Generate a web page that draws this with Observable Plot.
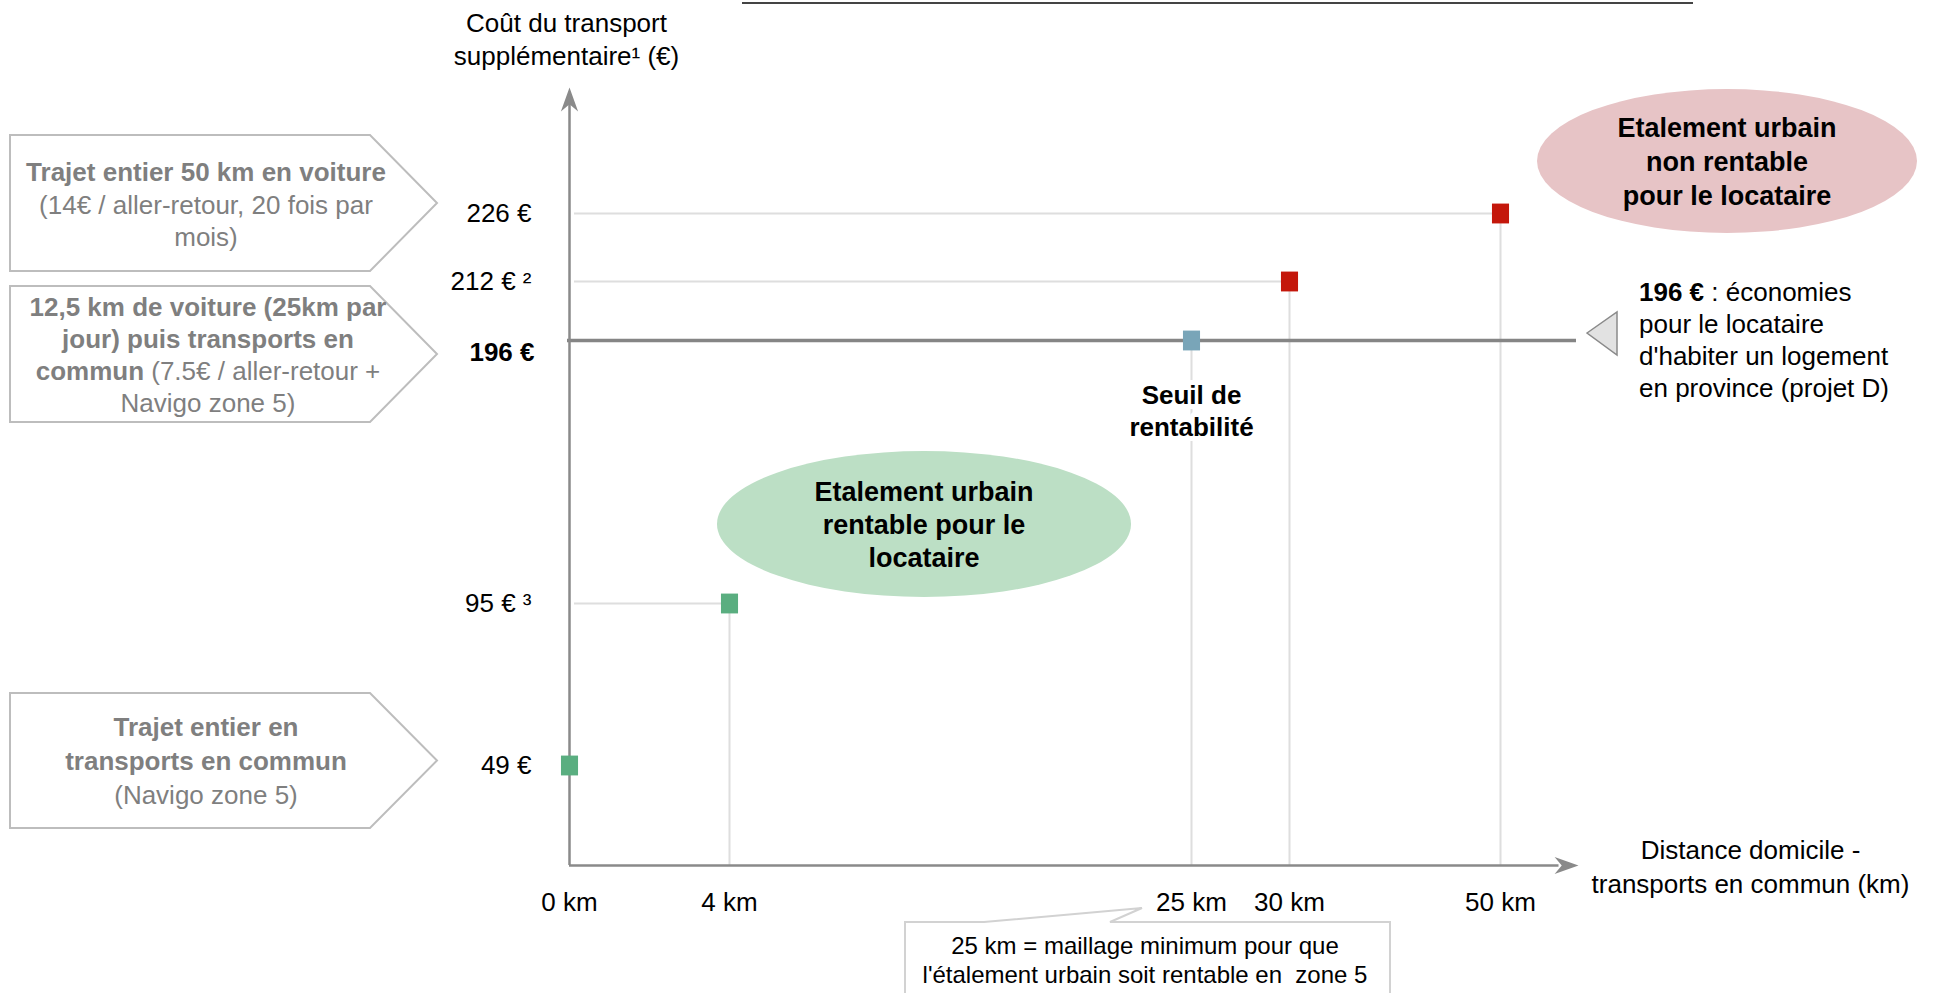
<!DOCTYPE html>
<html>
<head>
<meta charset="utf-8">
<script src="https://cdn.jsdelivr.net/npm/d3@7"></script>
<script src="https://cdn.jsdelivr.net/npm/@observablehq/plot@0.6"></script>
<style>
  html, body { margin: 0; padding: 0; background: #ffffff; }
  #chart svg { display: block; }
</style>
</head>
<body>
<div id="chart"></div>
<script>
// Home – public transport distance (km) and the extra monthly transport cost (€)
const distances = [0, 4, 25, 30, 50];
const costs = [49, 95, 196, 212, 226];
const zones = ["rentable", "rentable", "seuil", "non rentable", "non rentable"];
const distanceLabels = ["0 km", "4 km", "25 km", "30 km", "50 km"];
const costLabels = ["49 €", "95 € ³", "196 €", "212 € ²", "226 €"];
const savings = 196; // monthly saving for the tenant living in the province (projet D)

const points = distances.map((d, i) => ({distance: d, cost: costs[i], zone: zones[i], costLabel: costLabels[i]}));

const FONT = "Liberation Sans, Arial, Helvetica, sans-serif";
const AXIS = "#8a8a8a";
const LINK = "#dedede";
const xEnd = 54;   // tip of the distance axis arrow
const yEnd = 268;  // tip of the cost axis arrow

// Filled "stealth" arrowhead, tip at the origin, pointing up before rotation
const stealth = {
  draw(ctx, size) {
    const L = Math.sqrt(size);
    ctx.moveTo(0, 0);
    ctx.lineTo(L * 0.36, L);
    ctx.lineTo(0, L * 0.7);
    ctx.lineTo(-L * 0.36, L);
    ctx.closePath();
  }
};
// Slightly tall block used for the cost markers
const block = {
  draw(ctx, size) {
    const s = Math.sqrt(size), w = s * 0.86, h = s;
    ctx.rect(-w / 2, -h / 2, w, h);
  }
};

const plot = Plot.plot({
  width: 1943,
  height: 993,
  margin: 0,
  style: {fontFamily: FONT, background: "#ffffff"},
  x: {type: "linear", domain: [0, 4, 25, 30, 50, xEnd], range: [569, 729, 1191, 1289, 1500, 1578], axis: null},
  y: {type: "linear", domain: [0, 49, 95, 196, 212, 226, yEnd], range: [865, 765, 603, 340, 281, 213, 87], axis: null},
  color: {domain: ["rentable", "seuil", "non rentable"], range: ["#5aae80", "#79a5b8", "#c4170b"]},
  marks: [
    // light leader lines from the axes to each marker
    Plot.ruleY(points.filter(d => d.distance > 0 && d.cost !== savings), {y: "cost", x1: 0, x2: "distance", dx: 5, stroke: LINK, strokeWidth: 2}),
    Plot.ruleX(points.filter(d => d.distance > 0), {x: "distance", y1: 0, y2: "cost", stroke: LINK, strokeWidth: 2}),
    // saving threshold
    Plot.ruleY([savings], {x1: 0, x2: xEnd, dx: -2, stroke: "#858585", strokeWidth: 3.5}),
    // axes with arrowheads
    Plot.ruleX([0], {y1: 0, y2: yEnd - 5, stroke: AXIS, strokeWidth: 2.5}),
    Plot.ruleY([0], {x1: 0, x2: xEnd - 1, stroke: AXIS, strokeWidth: 2.5}),
    Plot.dot([{x: 0, y: yEnd, a: 0}, {x: xEnd, y: 0, a: 90}], {x: "x", y: "y", rotate: "a", symbol: stealth, r: 13.5, fill: AXIS, stroke: "none"}),
    // markers
    Plot.dot(points, {x: "distance", y: "cost", fill: "zone", symbol: block, r: 11.2}),
    // tick labels
    Plot.text(points.filter(d => d.cost !== savings), {x: 0, y: "cost", text: "costLabel", dx: -38, textAnchor: "end", fontSize: 26, fill: "#000"}),
    Plot.text(points.filter(d => d.cost === savings), {x: 0, y: "cost", text: "costLabel", dx: -35, dy: 12, textAnchor: "end", fontSize: 26, fontWeight: "bold", fill: "#000"}),
    Plot.text(distances, {x: d => d, y: 0, text: (d, i) => distanceLabels[i], dy: 37, fontSize: 26, fill: "#000"}),
    // axis titles
    Plot.text(["Coût du transport\nsupplémentaire¹ (€)"], {x: 0, y: yEnd, text: d => d, dy: -50, dx: -3, lineHeight: 1.27, fontSize: 26, fill: "#000"}),
    Plot.text(["Distance domicile -\ntransports en commun (km)"], {x: xEnd, y: 0, text: d => d, dx: 172, dy: 0, lineHeight: 1.3, fontSize: 26, fill: "#000"}),
    // break-even label under the 25 km marker
    Plot.text(["Seuil de\nrentabilité"], {x: 25, y: savings, text: d => d, dy: 69, lineHeight: 1.23, fontSize: 26, fontWeight: "bold", fill: "#000", stroke: "#fff", strokeWidth: 10})
  ]
});

document.getElementById("chart").appendChild(plot);

// ---- annotations ----
const svg = d3.select(plot);
const deco = svg.append("g").attr("font-family", FONT);

function writeLines(g, cx, ys, lines, opts) {
  const t = g.append("text")
    .attr("text-anchor", opts.anchor || "middle")
    .attr("font-size", opts.size)
    .attr("fill", opts.color);
  lines.forEach((segs, i) => {
    const line = t.append("tspan").attr("x", cx).attr("y", ys[i]).attr("dominant-baseline", "central");
    segs.forEach(([txt, bold]) => {
      line.append("tspan").attr("font-weight", bold ? "bold" : "normal").text(txt);
    });
  });
}

// arrow-shaped boxes on the left
const boxes = [
  {y0: 135, y1: 271, cx: 206, ys: [172, 205, 237], lines: [
    [["Trajet entier 50 km en voiture", true]],
    [["(14€ / aller-retour, 20 fois par", false]],
    [["mois)", false]]]},
  {y0: 286, y1: 422, cx: 208, ys: [307, 339, 371, 403], lines: [
    [["12,5 km de voiture (25km par", true]],
    [["jour) puis transports en", true]],
    [["commun", true], [" (7.5€ / aller-retour +", false]],
    [["Navigo zone 5)", false]]]},
  {y0: 693, y1: 828, cx: 206, ys: [727, 761, 795], lines: [
    [["Trajet entier en", true]],
    [["transports en commun", true]],
    [["(Navigo zone 5)", false]]]}
];
boxes.forEach(b => {
  const ym = (b.y0 + b.y1) / 2;
  deco.append("path")
    .attr("d", `M10,${b.y0}H370L437,${ym}L370,${b.y1}H10Z`)
    .attr("fill", "#fff").attr("stroke", "#bdbdbd").attr("stroke-width", 2);
  writeLines(deco, b.cx, b.ys, b.lines, {size: 26, color: "#7f7f7f"});
});

// zones
deco.append("ellipse").attr("cx", 1727).attr("cy", 161).attr("rx", 190).attr("ry", 72).attr("fill", "#e7c4c6");
writeLines(deco, 1727, [128, 162, 196], [[["Etalement urbain", true]], [["non rentable", true]], [["pour le locataire", true]]], {size: 27, color: "#000"});
deco.append("ellipse").attr("cx", 924).attr("cy", 524).attr("rx", 207).attr("ry", 73).attr("fill", "#bcdfc5");
writeLines(deco, 924, [492, 525, 558], [[["Etalement urbain", true]], [["rentable pour le", true]], [["locataire", true]]], {size: 27, color: "#000"});

// saving note at the end of the threshold line
deco.append("path").attr("d", "M1587,333L1617,312V355Z")
  .attr("fill", "#e2e2e2").attr("stroke", "#8a8a8a").attr("stroke-width", 1.5);
writeLines(deco, 1639, [292, 324, 356, 388], [
  [["196 €", true], [" : économies", false]],
  [["pour le locataire", false]],
  [["d'habiter un logement", false]],
  [["en province (projet D)", false]]], {size: 26, color: "#000", anchor: "start"});

// callout under the 25 km tick
deco.append("path").attr("d", "M905,996V922H984L1142,908L1110,922H1390V996")
  .attr("fill", "#fff").attr("stroke", "#d2d2d2").attr("stroke-width", 2);
writeLines(deco, 1145, [945, 974], [
  [["25 km = maillage minimum pour que", false]],
  [["l'étalement urbain soit rentable en  zone 5", false]]], {size: 24, color: "#000"});

// underline of the heading running along the top edge
deco.append("line").attr("x1", 742).attr("x2", 1693).attr("y1", 3).attr("y2", 3)
  .attr("stroke", "#444").attr("stroke-width", 2);
</script>
</body>
</html>
